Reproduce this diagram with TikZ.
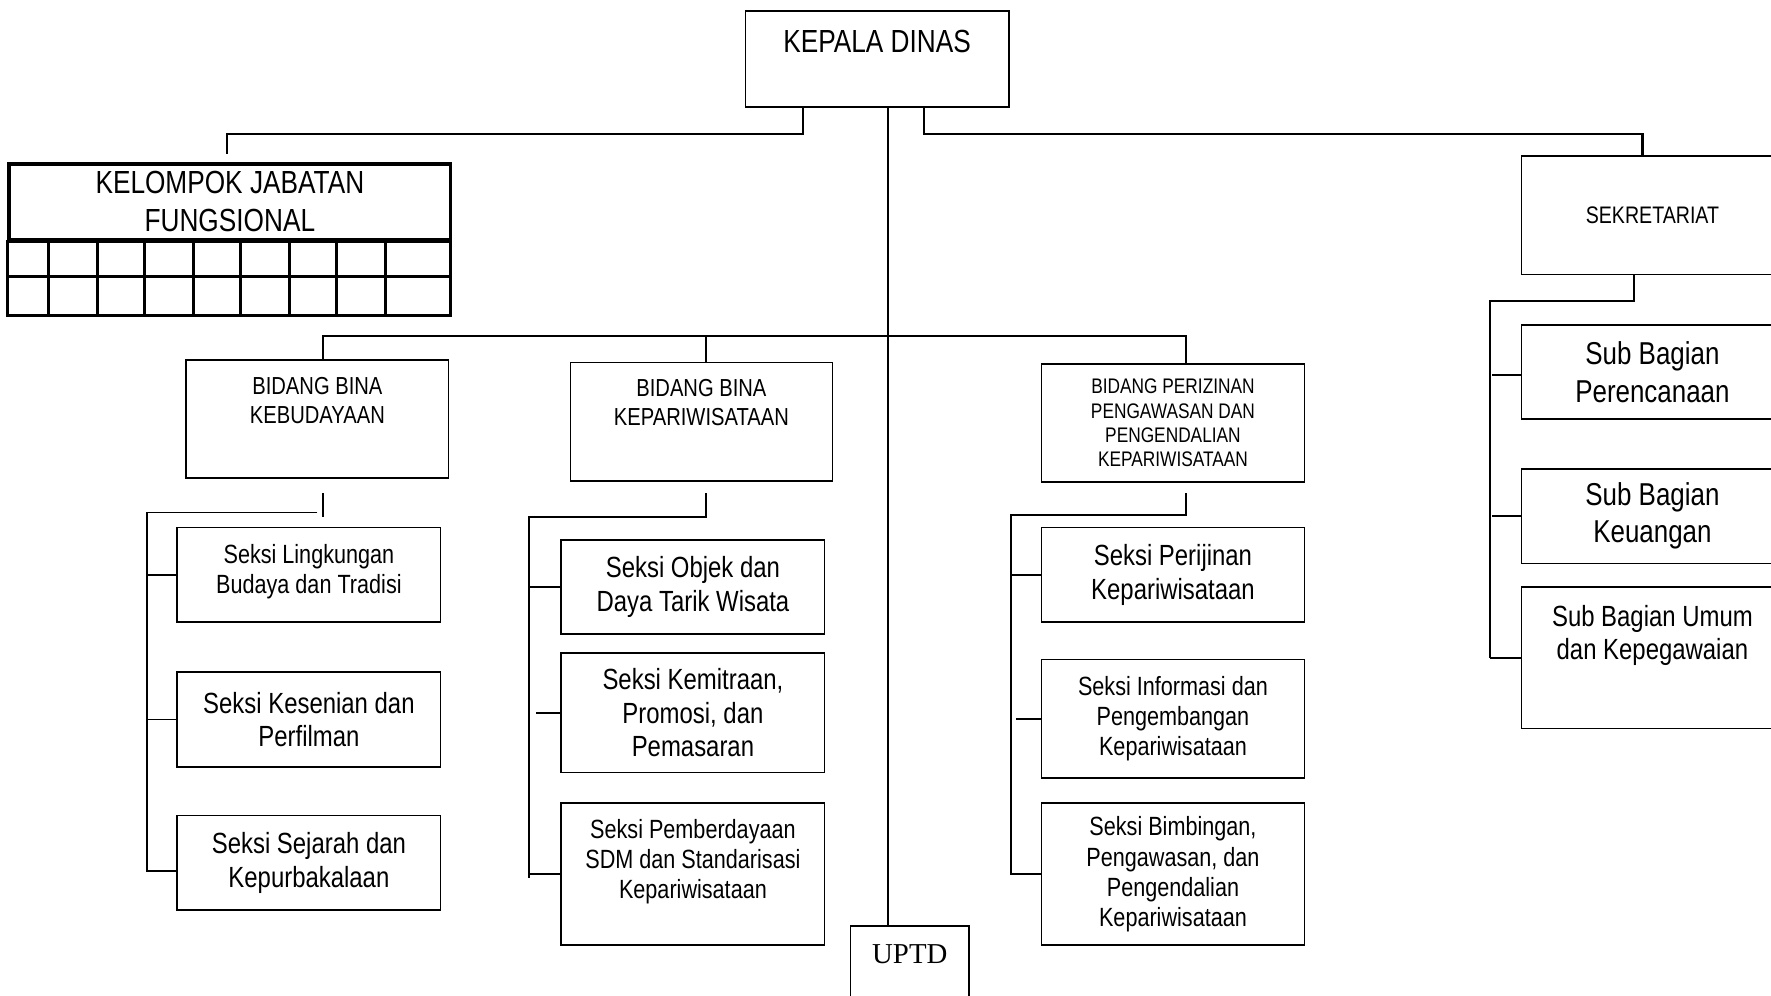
\documentclass[tikz,border=0pt]{standalone}
\usepackage{fontspec}
\setmainfont{Liberation Sans}[FakeStretch=0.82]
\newfontfamily\uptdfont{Liberation Serif}
\usepackage{tikz}
\usetikzlibrary{positioning,calc,fit}
\tikzset{
  box/.style={draw,line width=0.5pt,inner sep=0pt},
  kjfbox/.style={draw,line width=1pt,inner sep=0pt},
  kjfline/.style={line width=0.9pt},
  txt/.style={inner sep=0pt,align=center},
  conn/.style={line width=0.55pt}, bus/.style={line width=0.7pt},
  fhead/.style={font=\fontsize{9.1}{10.6}\selectfont},
  fsub/.style={font=\fontsize{9}{10.6}\selectfont},
  fbig/.style={font=\fontsize{8.3}{9.6}\selectfont},
  fsmall/.style={font=\fontsize{7.5}{8.55}\selectfont},
  fbid/.style={font=\fontsize{7}{8.3}\selectfont},
  ftiny/.style={font=\fontsize{6}{6.95}\selectfont}}

\begin{document}
\begin{tikzpicture}[x=0.11295mm,y=-0.11295mm]
\useasboundingbox (0,0) rectangle (1568,881);
\clip (0,0) rectangle (1568,881);
\node[box,fit={(660,10)(893,95)}] (kd) {};
\node[txt,fhead,below=5.4pt of kd.north] (kdt) {KEPALA DINAS};
\node[kjfbox,fit={(8,145)(399,212)}] (kjf) {};
\node[txt,fhead] (kjft) at (kjf) {KELOMPOK JABATAN\\FUNGSIONAL};
\draw[kjfline] (kjf.south west) rectangle (399,279) (8,245) -- (399,245);
\foreach \cx in {43,86,128,171,213,256,298,341} \draw[kjfline] (\cx,212) -- (\cx,279);
\node[box,fit={(1347,138)(1579,243)}] (sek) {};
\node[txt,font=\fontsize{6.8}{8}\selectfont] (sekt) at (sek) {SEKRETARIAT};
\node[box,fit={(1347,288)(1579,371)}] (sb1) {};
\node[txt,fsub] (sb1t) at (sb1) {Sub Bagian\\Perencanaan};
\node[box,fit={(1347,415)(1579,499)}] (sb2) {};
\node[txt,fsub] (sb2t) at (sb2) {Sub Bagian\\Keuangan};
\node[box,fit={(1347,520)(1579,645)}] (sb3) {};
\node[txt,fbig,below=5.1pt of sb3.north] (sb3t) {Sub Bagian Umum\\dan Kepegawaian};
\node[box,fit={(165,319)(397,423)}] (bbk) {};
\node[txt,fbid,below=4.8pt of bbk.north] (bbkt) {BIDANG BINA\\KEBUDAYAAN};
\node[box,fit={(505,321)(737,426)}] (bbkp) {};
\node[txt,fbid,below=4.8pt of bbkp.north] (bbkpt) {BIDANG BINA\\KEPARIWISATAAN};
\node[box,fit={(922,322)(1155,427)}] (bpp) {};
\node[txt,ftiny] (bppt) at (bpp) {BIDANG PERIZINAN\\PENGAWASAN DAN\\PENGENDALIAN\\KEPARIWISATAAN};
\node[box,fit={(753,820)(858,905)}] (uptd) {};
\node[txt,below=5.4pt of uptd.north,font=\uptdfont\fontsize{8.2}{9.6}\selectfont] (uptdt) {UPTD};
\node[box,fit={(157,467)(390,551)}] (s11) {};
\node[txt,fsmall] (s11t) at ($(s11)+(0,-3)$) {Seksi Lingkungan\\Budaya dan Tradisi};
\node[box,fit={(157,595)(390,679)}] (s12) {};
\node[txt,fbig] (s12t) at (s12) {Seksi Kesenian dan\\Perfilman};
\node[box,fit={(157,722)(390,806)}] (s13) {};
\node[txt,fbig] (s13t) at (s13) {Seksi Sejarah dan\\Kepurbakalaan};
\node[box,fit={(497,478)(730,561)}] (s21) {};
\node[txt,fbig] (s21t) at (s21) {Seksi Objek dan\\Daya Tarik Wisata};
\node[box,fit={(497,578)(730,684)}] (s22) {};
\node[txt,fbig] (s22t) at (s22) {Seksi Kemitraan,\\Promosi, dan\\Pemasaran};
\node[box,fit={(497,711)(730,837)}] (s23) {};
\node[txt,fsmall,below=4.8pt of s23.north] (s23t) {Seksi Pemberdayaan\\SDM dan Standarisasi\\Kepariwisataan};
\node[box,fit={(922,467)(1155,551)}] (s31) {};
\node[txt,fbig] (s31t) at (s31) {Seksi Perijinan\\Kepariwisataan};
\node[box,fit={(922,584)(1155,689)}] (s32) {};
\node[txt,fsmall] (s32t) at (s32) {Seksi Informasi dan\\Pengembangan\\Kepariwisataan};
\node[box,fit={(922,711)(1155,837)}] (s33) {};
\node[txt,fsmall] (s33t) at (s33) {Seksi Bimbingan,\\Pengawasan, dan\\Pengendalian\\Kepariwisataan};
% garis dari kepala dinas
\draw[bus] ($(kd.south)+(-65.5,0)$) -- ++(0,23) -| ($(kjf.north)+(-2.5,-7)$);
\draw[conn] ($(kd.south)+(9.5,0)$) coordinate (trunk) -- (trunk |- uptd.north);
\draw[bus] ($(kd.south)+(41.5,0)$) -- ++(0,23) -| ($(sek.north)+(-9,0)$);
\draw[conn] ($(bbk.north)+(5,0)$) -- ++(0,-21) -| ($(bpp.north)+(11.5,0)$);
\draw[conn] ($(bbkp.north)+(4,0)$) -- ++(0,-23);
% garis ke seksi
\draw[conn] ($(bbk.south)+(5,13)$) -- ++(0,21);
\draw[conn] ($(bbk.south)+(0,30)$) -| ($(s13.west)+(-26,7)$) -- ($(s13.west)+(0,7)$);
\draw[conn] (s11.west) -- ++(-26,0) (s12.west) -- ++(-26,0);
\draw[conn] ($(bbkp.south)+(4,10)$) -- ++(0,21) -| ($(s23.west)+(-28,3)$);
\draw[conn] (s21.west) -- ++(-28,0) (s22.west) -- ++(-22,0) (s23.west) -- ++(-28,0);
\draw[conn] ($(bpp.south)+(11.5,9)$) -- ++(0,19) -| ($(s33.west)+(-26,1)$);
\draw[conn] (s31.west) -- ++(-26,0) (s32.west) -- ++(-22,0) (s33.west) -- ++(-26,0);
\draw[conn] ($(sek.south)+(-16.5,0)$) -- ++(0,22.5) -| ($(sb3.west)+(-27,0.5)$);
\draw[conn] ($(sb1.west)+(0,2.5)$) -- ++(-25,0) (sb2.west) -- ++(-25,0) (sb3.west) -- ++(-27,0);
\end{tikzpicture}
\end{document}
